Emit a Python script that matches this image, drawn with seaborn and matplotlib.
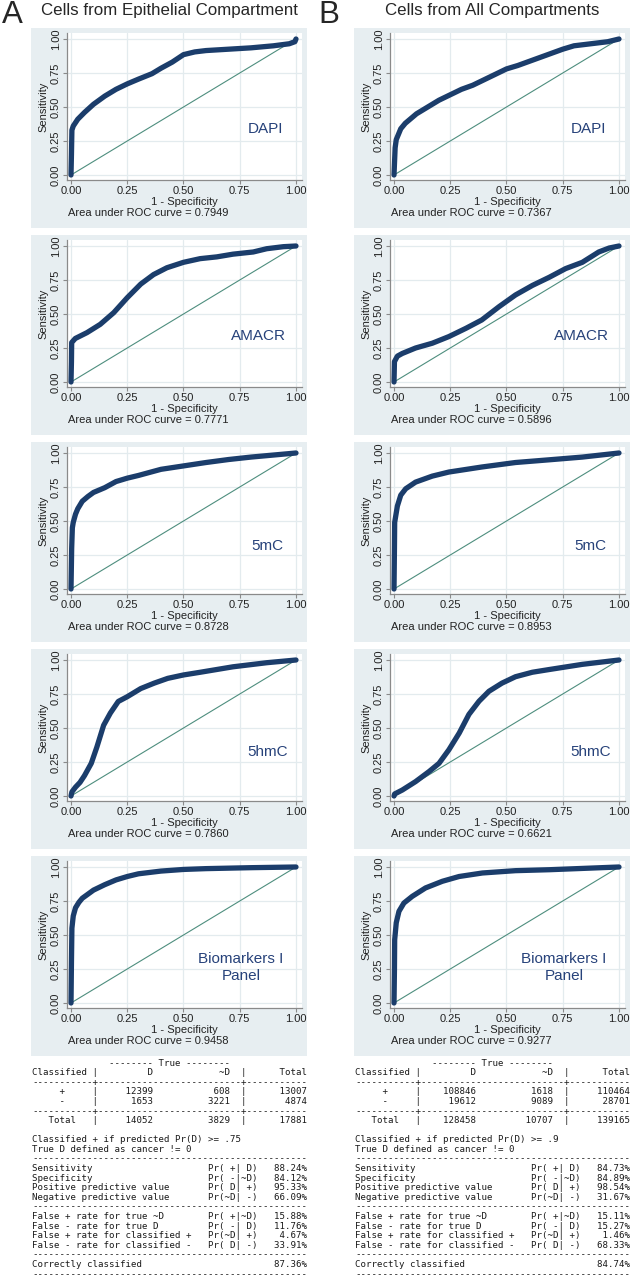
import matplotlib
matplotlib.use("Agg")
import matplotlib.pyplot as plt
import seaborn as sns
from matplotlib.patches import Rectangle

sns.set_style("ticks")
plt.rcParams["font.family"] = ["Liberation Sans", "DejaVu Sans"]

# ---------------- data ----------------
col_letters = ["A", "B"]
col_titles = ["Cells from Epithelial Compartment", "Cells from All Compartments"]
marker_names = ["DAPI", "AMACR", "5mC", "5hmC", "Biomarkers I\nPanel"]
auc_epithelial = ["0.7949", "0.7771", "0.8728", "0.7860", "0.9458"]
auc_all = ["0.7367", "0.5896", "0.8953", "0.6621", "0.9277"]
chance_line = [0.0, 1.0]
axis_ticks = [0.0, 0.25, 0.5, 0.75, 1.0]

# epithelial compartment: (1 - specificity, sensitivity)
epi_dapi_x = [0, 0.002, 0.004, 0.01, 0.03, 0.06, 0.1, 0.15, 0.2, 0.25, 0.3, 0.36, 0.4, 0.45, 0.5, 0.55, 0.6, 0.7, 0.8, 0.9, 0.97, 0.995, 1.0]
epi_dapi_y = [0, 0.15, 0.33, 0.36, 0.41, 0.46, 0.52, 0.58, 0.63, 0.67, 0.705, 0.745, 0.785, 0.83, 0.885, 0.905, 0.915, 0.925, 0.935, 0.95, 0.965, 0.98, 1.0]
epi_amacr_x = [0, 0.002, 0.003, 0.019, 0.071, 0.13, 0.19, 0.25, 0.31, 0.367, 0.426, 0.5, 0.574, 0.648, 0.72, 0.81, 0.87, 0.944, 1.0]
epi_amacr_y = [0, 0.15, 0.29, 0.32, 0.363, 0.424, 0.51, 0.62, 0.72, 0.79, 0.84, 0.88, 0.907, 0.92, 0.94, 0.956, 0.98, 0.995, 1.0]
epi_5mc_x = [0, 0.003, 0.006, 0.01, 0.02, 0.03, 0.05, 0.075, 0.1, 0.15, 0.2, 0.25, 0.3, 0.4, 0.5, 0.6, 0.7, 0.8, 0.9, 1.0]
epi_5mc_y = [0, 0.3, 0.45, 0.49, 0.55, 0.59, 0.645, 0.68, 0.71, 0.745, 0.79, 0.815, 0.835, 0.88, 0.905, 0.93, 0.952, 0.97, 0.985, 1.0]
epi_5hmc_x = [0, 0.004, 0.02, 0.04, 0.06, 0.09, 0.115, 0.145, 0.175, 0.21, 0.25, 0.31, 0.37, 0.43, 0.5, 0.575, 0.72, 0.87, 1.0]
epi_5hmc_y = [0, 0.03, 0.065, 0.1, 0.15, 0.24, 0.36, 0.52, 0.61, 0.695, 0.73, 0.79, 0.83, 0.865, 0.89, 0.91, 0.95, 0.98, 1.0]
epi_bio_x = [0, 0.002, 0.004, 0.01, 0.02, 0.035, 0.05, 0.075, 0.1, 0.15, 0.2, 0.25, 0.3, 0.4, 0.5, 0.6, 0.8, 1.0]
epi_bio_y = [0, 0.3, 0.55, 0.64, 0.7, 0.74, 0.77, 0.8, 0.83, 0.87, 0.905, 0.93, 0.95, 0.97, 0.982, 0.988, 0.995, 1.0]

# all compartments
all_dapi_x = [0, 0.003, 0.005, 0.01, 0.03, 0.05, 0.1, 0.15, 0.2, 0.25, 0.3, 0.35, 0.4, 0.45, 0.5, 0.55, 0.6, 0.65, 0.7, 0.75, 0.8, 0.85, 0.9, 0.95, 1.0]
all_dapi_y = [0, 0.12, 0.2, 0.26, 0.34, 0.38, 0.45, 0.5, 0.55, 0.59, 0.63, 0.66, 0.7, 0.74, 0.78, 0.805, 0.835, 0.865, 0.895, 0.925, 0.95, 0.96, 0.97, 0.98, 1.0]
all_amacr_x = [0, 0.002, 0.015, 0.037, 0.096, 0.17, 0.244, 0.32, 0.39, 0.467, 0.54, 0.615, 0.69, 0.763, 0.837, 0.91, 0.956, 1.0]
all_amacr_y = [0, 0.15, 0.19, 0.21, 0.25, 0.285, 0.334, 0.395, 0.456, 0.554, 0.64, 0.71, 0.77, 0.834, 0.88, 0.956, 0.985, 1.0]
all_5mc_x = [0, 0.002, 0.003, 0.015, 0.03, 0.052, 0.096, 0.17, 0.244, 0.39, 0.54, 0.69, 0.837, 1.0]
all_5mc_y = [0, 0.3, 0.49, 0.61, 0.69, 0.737, 0.786, 0.83, 0.86, 0.897, 0.93, 0.95, 0.97, 1.0]
all_5hmc_x = [0, 0.003, 0.037, 0.096, 0.156, 0.2, 0.244, 0.29, 0.333, 0.378, 0.422, 0.48, 0.54, 0.615, 0.69, 0.837, 1.0]
all_5hmc_y = [0, 0.015, 0.044, 0.106, 0.18, 0.24, 0.34, 0.463, 0.6, 0.697, 0.77, 0.83, 0.877, 0.91, 0.93, 0.968, 1.0]
all_bio_x = [0, 0.002, 0.003, 0.01, 0.022, 0.044, 0.081, 0.14, 0.215, 0.289, 0.393, 0.54, 0.69, 1.0]
all_bio_y = [0, 0.25, 0.465, 0.59, 0.674, 0.735, 0.784, 0.846, 0.895, 0.93, 0.956, 0.973, 0.98, 1.0]

# classification tables
epi_pos = [12399, 608, 13007]
epi_neg = [1653, 3221, 4874]
epi_tot = [14052, 3829, 17881]
epi_cutoff = ".75"
epi_stats = ["88.24%", "84.12%", "95.33%", "66.09%", "15.88%", "11.76%", "4.67%", "33.91%"]
epi_correct = "87.36%"

all_pos = [108846, 1618, 110464]
all_neg = [19612, 9089, 28701]
all_tot = [128458, 10707, 139165]
all_cutoff = ".9"
all_stats = ["84.73%", "84.89%", "98.54%", "31.67%", "15.11%", "15.27%", "1.46%", "68.33%"]
all_correct = "84.74%"

stat_names = ["Sensitivity", "Specificity", "Positive predictive value", "Negative predictive value",
              "False + rate for true ~D", "False - rate for true D",
              "False + rate for classified +", "False - rate for classified -"]
stat_probs = ["Pr( +| D)", "Pr( -|~D)", "Pr( D| +)", "Pr(~D| -)",
              "Pr( +|~D)", "Pr( -| D)", "Pr(~D| +)", "Pr( D| -)"]

columns = [
    dict(curves=[(epi_dapi_x, epi_dapi_y), (epi_amacr_x, epi_amacr_y), (epi_5mc_x, epi_5mc_y),
                 (epi_5hmc_x, epi_5hmc_y), (epi_bio_x, epi_bio_y)],
         auc=auc_epithelial, pos=epi_pos, neg=epi_neg, tot=epi_tot,
         cutoff=epi_cutoff, stats=epi_stats, correct=epi_correct),
    dict(curves=[(all_dapi_x, all_dapi_y), (all_amacr_x, all_amacr_y), (all_5mc_x, all_5mc_y),
                 (all_5hmc_x, all_5hmc_y), (all_bio_x, all_bio_y)],
         auc=auc_all, pos=all_pos, neg=all_neg, tot=all_tot,
         cutoff=all_cutoff, stats=all_stats, correct=all_correct),
]

# ---------------- layout (pixels) ----------------
W, H = 632, 1280
navy = "#1b3d6b"
ref_green = "#4e8e7e"
panel_bg = "#e7eef1"
grid_col = "#e3ebee"
label_navy = "#27427a"


def fx(px):
    return px / W


def fy(py):
    return 1 - py / H


def stata_table(c):
    lines = [" " * 14 + "-------- True --------",
             f"{'Classified':<11}|{'D':>10}{'~D':>14}  |{'Total':>11}",
             "-" * 11 + "+" + "-" * 26 + "+" + "-" * 11,
             f"{'+':^11}|{c['pos'][0]:>10}{c['pos'][1]:>14}  |{c['pos'][2]:>11}",
             f"{'-':^11}|{c['neg'][0]:>10}{c['neg'][1]:>14}  |{c['neg'][2]:>11}",
             "-" * 11 + "+" + "-" * 26 + "+" + "-" * 11,
             f"{'Total':^11}|{c['tot'][0]:>10}{c['tot'][1]:>14}  |{c['tot'][2]:>11}",
             "",
             f"Classified + if predicted Pr(D) >= {c['cutoff']}",
             "True D defined as cancer != 0",
             "-" * 50]
    for k in range(8):
        lines.append(f"{stat_names[k]:<32}{stat_probs[k]:<9}{c['stats'][k]:>9}")
        if k == 3:
            lines.append("-" * 50)
    lines.append("-" * 50)
    lines.append(f"{'Correctly classified':<41}{c['correct']:>9}")
    lines.append("-" * 50)
    return lines


fig = plt.figure(figsize=(W / 100, H / 100), dpi=100)
fig.patch.set_facecolor("white")

col_left = [31, 354]
label_pos = [(0.865, 0.34), (0.835, 0.34), (0.875, 0.315), (0.875, 0.32), (0.755, 0.26)]

for j, c in enumerate(columns):
    bx = col_left[j]
    fig.text(fx(bx - 30 + (1 if j == 0 else -6)), fy(23), col_letters[j], fontsize=22.5,
             ha="left", va="baseline")
    fig.text(fx(bx + 138), fy(15), col_titles[j], fontsize=12.2, ha="center", va="baseline")

    for i, name in enumerate(marker_names):
        by = 28 + 207 * i
        fig.add_artist(Rectangle((fx(bx), fy(by + 200)), 276 / W, 200 / H,
                                 transform=fig.transFigure, facecolor=panel_bg,
                                 edgecolor="none", zorder=0))
        ax = fig.add_axes([fx(bx + 36), fy(by + 152), 235 / W, 147 / H])
        ax.set_facecolor("white")
        fpr, tpr = c["curves"][i]
        sns.lineplot(x=chance_line, y=chance_line, ax=ax, color=ref_green, lw=0.8)
        sns.lineplot(x=fpr, y=tpr, ax=ax, sort=False, estimator=None, color=navy,
                     lw=3.8, solid_capstyle="round", solid_joinstyle="round")
        ax.set_xlim(-0.0178, 1.0267)
        ax.set_ylim(-0.0368, 1.0441)
        ax.set_xticks(axis_ticks)
        ax.set_yticks(axis_ticks)
        ax.set_xticklabels([f"{t:.2f}" for t in axis_ticks])
        ax.set_yticklabels([f"{t:.2f}" for t in axis_ticks], rotation=90, va="center")
        ax.grid(True, color=grid_col, lw=0.9)
        ax.set_axisbelow(True)
        sns.despine(ax=ax)
        for s in ("left", "bottom"):
            ax.spines[s].set_color("#8a8a8a")
            ax.spines[s].set_linewidth(0.9)
        ax.tick_params(direction="out", length=3, width=0.8, color="#8a8a8a",
                       labelsize=8, pad=1.5, labelcolor="#222222")
        ax.set_xlabel("1 - Specificity", fontsize=8, labelpad=0.5, color="#222222")
        ax.set_ylabel("Sensitivity", fontsize=8, labelpad=1.5, color="#222222")
        lx, ly = label_pos[i]
        ax.text(lx, ly, name, fontsize=11, color=label_navy, ha="center", va="center",
                linespacing=1.25)
        fig.text(fx(bx + 37), fy(by + 185), f"Area under ROC curve = {c['auc'][i]}",
                 fontsize=8, ha="left", va="center", color="#222222")

    for k, line in enumerate(stata_table(c)):
        fig.text(fx(bx + 1), fy(1063 + 9.6 * k), line, family=["DejaVu Sans Mono"],
                 fontsize=6.6, ha="left", va="center", color="#1a1a1a")

fig.savefig("out.png", dpi=100, facecolor="white")
